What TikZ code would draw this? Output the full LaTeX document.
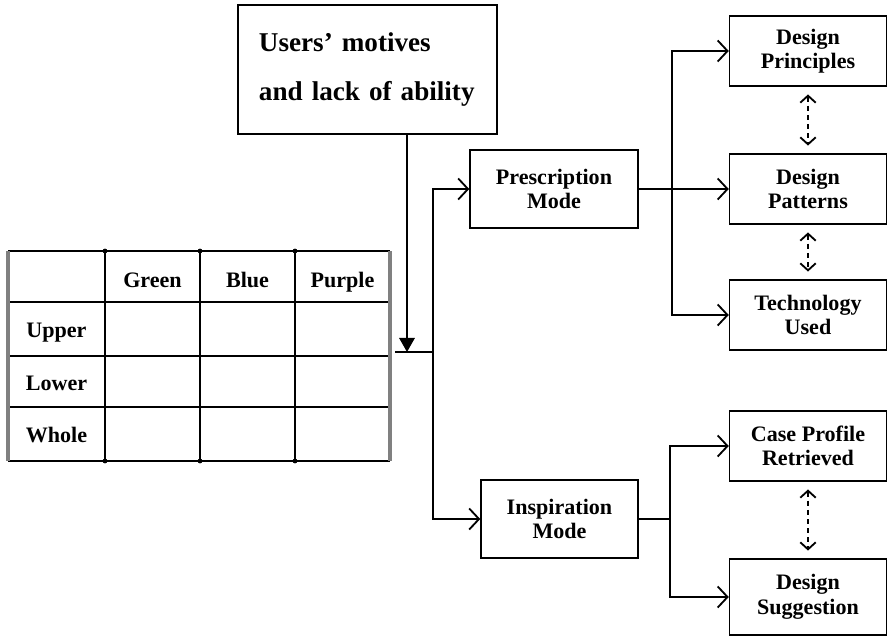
\documentclass[tikz,border=0pt]{standalone}
\usepackage{fontspec}
\setmainfont{Liberation Serif}
\usetikzlibrary{arrows.meta}
\begin{document}
\begin{tikzpicture}[x=0.025cm,y=-0.025cm,line width=1.3pt,
  box/.style={draw,line width=1pt,align=center,inner sep=0pt,font=\bfseries\fontsize{15.7}{17.5}\selectfont},
  rbox/.style={box,minimum width=3.925cm,minimum height=1.75cm},
  cell/.style={anchor=base,font=\bfseries\fontsize{15.7}{17.5}\selectfont},
  arr/.style={-{Straight Barb[length=7pt,width=15pt]}},
  dasharr/.style={{Straight Barb[length=5pt,width=11pt]}-{Straight Barb[length=5pt,width=11pt]},dash pattern=on 3.5pt off 3pt,shorten <=5.5pt,shorten >=5.5pt}]
\useasboundingbox (0,0) rectangle (889,637);
\node[draw,line width=1pt,align=left,text width=5.425cm,inner xsep=0.525cm,inner ysep=0pt,minimum height=3.225cm,font=\bfseries\fontsize{19.3}{35.5}\selectfont] (users) at (367.5,69.5) {\mbox{Users’ motives}\\\mbox{and lack of ability}};
\node[box,minimum width=4.2cm,minimum height=1.95cm] (presc) at (554,189) {Prescription\\Mode};
\node[box,minimum width=3.925cm,minimum height=1.95cm] (insp) at (559.5,519) {Inspiration\\Mode};
\node[rbox] (princ) at (808,51) {Design\\Principles};
\node[rbox] (patt) at (808,189) {Design\\Patterns};
\node[rbox] (tech) at (808,315) {Technology\\Used};
\node[rbox] (case) at (808,446) {Case Profile\\Retrieved};
\node[rbox,minimum height=1.9cm] (sugg) at (808,597) {Design\\Suggestion};
\draw (8,251) -- (390,251) (8,461) -- (390,461);
\foreach \y in {302,356,407} \draw (8,\y) -- (390,\y);
\foreach \x in {105,200,295} \draw[line width=1.4pt] (\x,251) -- (\x,461);
\draw[gray,line width=2.5pt] (8,251) -- (8,461) (390,251) -- (390,461);
\foreach \x in {105,200,295} {\fill (\x,251) circle (1.7pt); \fill (\x,461) circle (1.7pt);}
\foreach \t [count=\i] in {Green,Blue,Purple} \node[cell] (head\i) at ({152.5+95*(\i-1)},287) {\t};
\foreach \t/\y in {Upper/337,Lower/390,Whole/442} \node[cell] (row\t) at (56.5,\y) {\t};
\coordinate (join) at (407,352); \coordinate (tout) at (395,352); \coordinate (split) at (433,352);
\draw[-{Triangle[length=10pt,width=11pt]}] (users.south -| join) -- (join);
\draw (tout) -- (split);
\draw[arr] (split) |- (presc.west); \draw[arr] (split) |- (insp.west);
\coordinate (pbr) at (672,189);
\draw[arr] (presc.east) -- (patt.west);
\draw[arr] (pbr) |- (princ.west); \draw[arr] (pbr) |- (tech.west);
\coordinate (ibr) at (670,519);
\draw (insp.east) -- (ibr);
\draw[arr] (ibr) |- (case.west); \draw[arr] (ibr) |- (sugg.west);
\draw[dasharr] (princ.south) -- (patt.north);
\draw[dasharr] (patt.south) -- (tech.north);
\draw[dasharr] (case.south) -- (sugg.north);
\end{tikzpicture}
\end{document}
